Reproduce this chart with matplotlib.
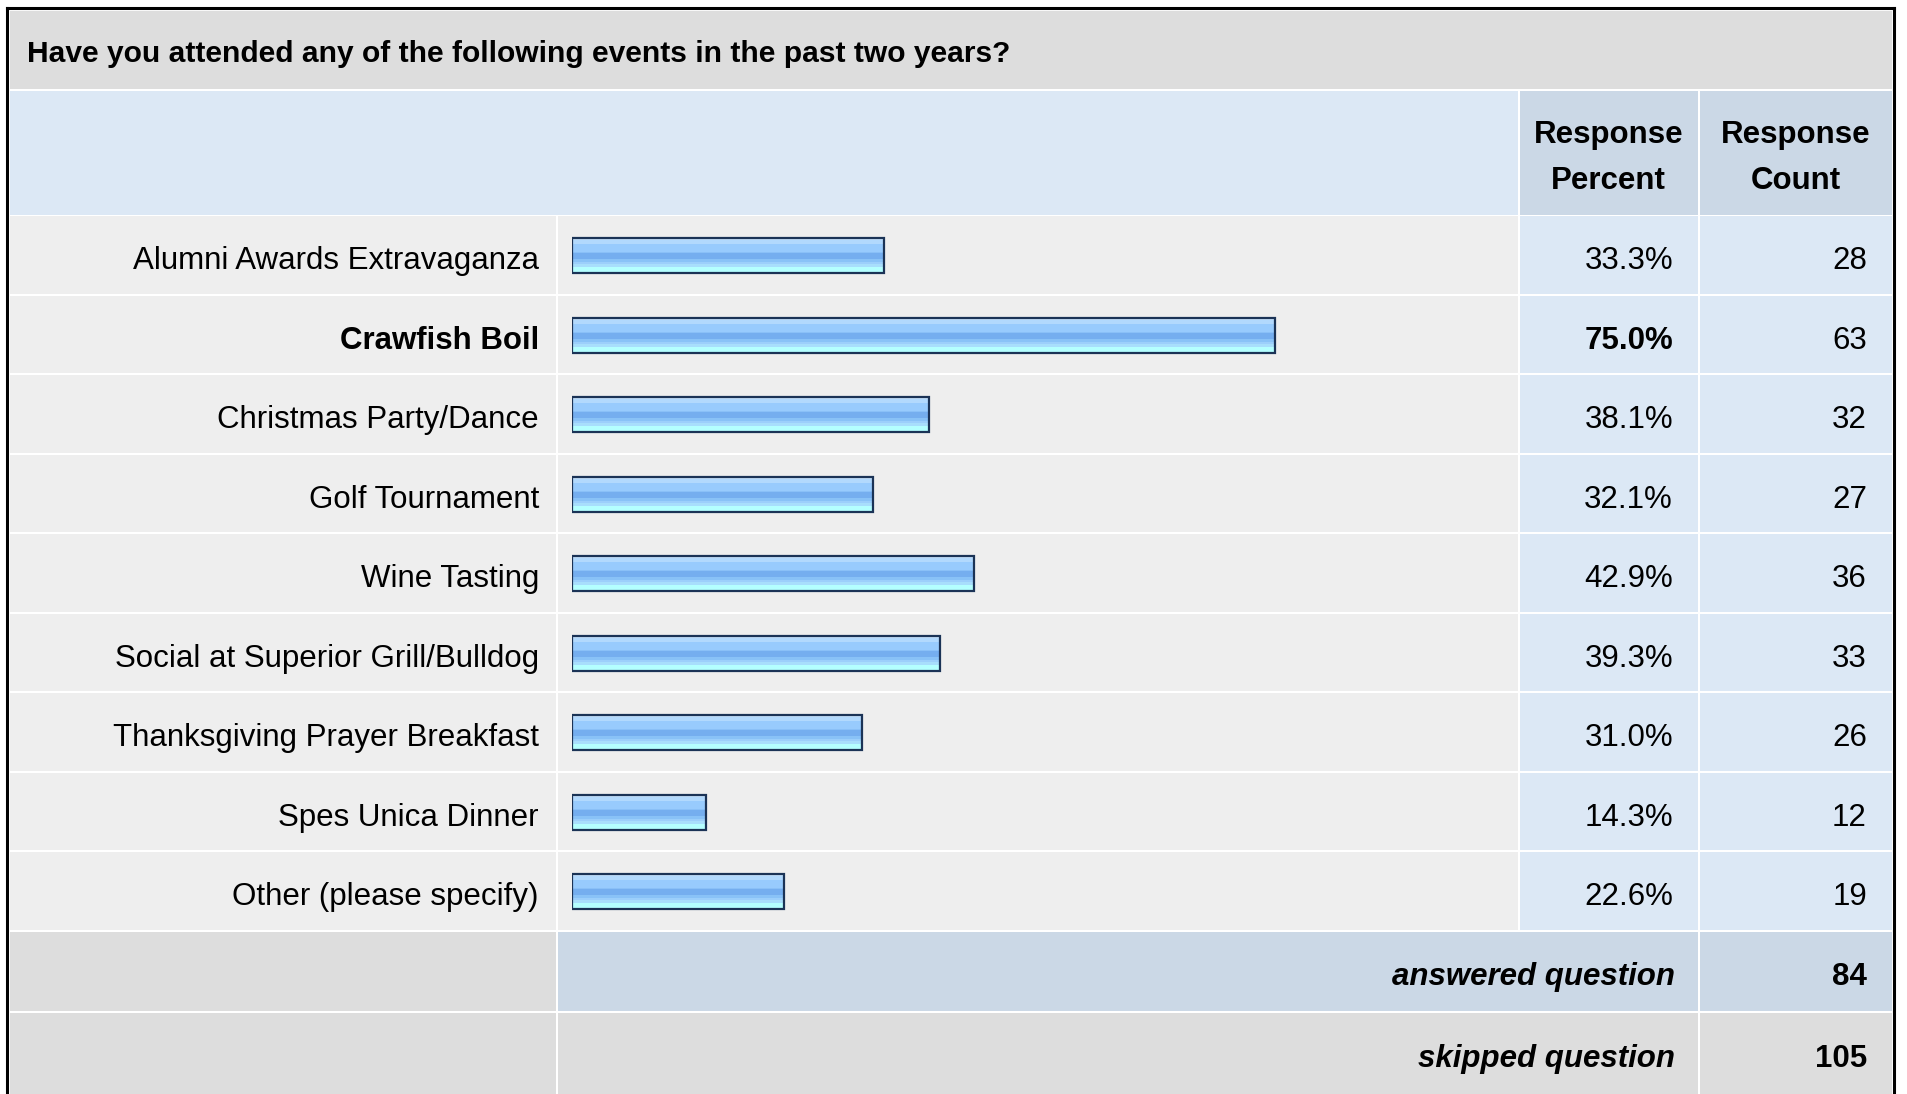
import matplotlib
matplotlib.use('Agg')
import matplotlib.pyplot as plt
import numpy as np
from matplotlib.patches import Rectangle
from matplotlib.colors import to_rgb

# survey data
question = 'Have you attended any of the following events in the past two years?'
events = ['Alumni Awards Extravaganza', 'Crawfish Boil', 'Christmas Party/Dance',
          'Golf Tournament', 'Wine Tasting', 'Social at Superior Grill/Bulldog',
          'Thanksgiving Prayer Breakfast', 'Spes Unica Dinner', 'Other (please specify)']
percents = [33.3, 75.0, 38.1, 32.1, 42.9, 39.3, 31.0, 14.3, 22.6]
counts = [28, 63, 32, 27, 36, 33, 26, 12, 19]
answered = 84
skipped = 105
top_event = 'Crawfish Boil'

plt.rcParams['font.family'] = ['Liberation Sans', 'DejaVu Sans']

W, H = 1907, 1094
fig = plt.figure(figsize=(W / 100, H / 100), dpi=100)
fig.patch.set_facecolor('white')

# background axes in pixel units (y down)
bg = fig.add_axes([0, 0, 1, 1])
bg.set_xlim(0, W)
bg.set_ylim(H, 0)
bg.axis('off')

GREY = '#dddddd'
ROWBG = '#eeeeee'
LBLUE = '#dce8f5'
MBLUE = '#cbd8e6'


def cell(x0, x1, y0, y1, color):
    bg.add_patch(Rectangle((x0, y0), x1 - x0, y1 - y0, facecolor=color, edgecolor='none'))


cols = [(9.5, 555.5), (557.5, 1517.5), (1519.5, 1697.5), (1699.5, 1891.5)]
row_top = 216
row_h = 79.5

# title band
cell(9.5, 1891.5, 11, 88.5, GREY)
# header band
cell(9.5, 1517.5, 90.5, 214.5, LBLUE)
cell(cols[2][0], cols[2][1], 90.5, 214.5, MBLUE)
cell(cols[3][0], cols[3][1], 90.5, 214.5, MBLUE)

# data rows
for k in range(len(events)):
    y0 = row_top + k * row_h
    y1 = y0 + row_h - 2
    cell(cols[0][0], cols[0][1], y0, y1, ROWBG)
    cell(cols[1][0], cols[1][1], y0, y1, ROWBG)
    cell(cols[2][0], cols[2][1], y0, y1, LBLUE)
    cell(cols[3][0], cols[3][1], y0, y1, LBLUE)

# summary rows
a0 = row_top + len(events) * row_h
cell(cols[0][0], cols[0][1], a0, a0 + 79.5, GREY)
cell(cols[1][0], cols[2][1], a0, a0 + 79.5, MBLUE)
cell(cols[3][0], cols[3][1], a0, a0 + 79.5, MBLUE)
s0 = a0 + 81.5
cell(cols[0][0], cols[0][1], s0, H, GREY)
cell(cols[1][0], cols[2][1], s0, H, GREY)
cell(cols[3][0], cols[3][1], s0, H, GREY)

# outer frame
bg.plot([6.5, 6.5], [8, H], color='black', lw=2.2, solid_capstyle='projecting')
bg.plot([6.5, 1894], [8, 8], color='black', lw=2.2, solid_capstyle='projecting')
bg.plot([1894, 1894], [8, H], color='black', lw=2.2, solid_capstyle='projecting')

# texts
fs = 22.5
bg.text(27, 62, question, fontsize=21.6, fontweight='bold', ha='left', va='baseline')
pc_x = (cols[2][0] + cols[2][1]) / 2
ct_x = (cols[3][0] + cols[3][1]) / 2
for x, lines in [(pc_x, ('Response', 'Percent')), (ct_x, ('Response', 'Count'))]:
    bg.text(x, 142.5, lines[0], fontsize=fs, fontweight='bold', ha='center', va='baseline')
    bg.text(x, 189, lines[1], fontsize=fs, fontweight='bold', ha='center', va='baseline')

for k, (ev, p, c) in enumerate(zip(events, percents, counts)):
    base = row_top + (k + 0.5) * row_h + 13.5
    w = 'bold' if ev == top_event else 'normal'
    bg.text(539, base, ev, fontsize=fs, fontweight=w, ha='right', va='baseline')
    bg.text(1673, base, f'{p:.1f}%', fontsize=fs, fontweight=w, ha='right', va='baseline')
    bg.text(1867, base, str(c), fontsize=fs, ha='right', va='baseline')

bg.text(1675, a0 + 39.75 + 14, 'answered question', fontsize=fs, fontweight='bold',
        fontstyle='italic', ha='right', va='baseline')
bg.text(1867, a0 + 39.75 + 14, str(answered), fontsize=fs, fontweight='bold', ha='right', va='baseline')
bg.text(1675, s0 + 40 + 14, 'skipped question', fontsize=fs, fontweight='bold',
        fontstyle='italic', ha='right', va='baseline')
bg.text(1867, s0 + 40 + 14, str(skipped), fontsize=fs, fontweight='bold', ha='right', va='baseline')

# bar axes: 0-100 % mapped onto the bar column
bx0, bx1 = 572, 1509
ytop, ybot = row_top, row_top + len(events) * row_h
ax = fig.add_axes([bx0 / W, 1 - ybot / H, (bx1 - bx0) / W, (ybot - ytop) / H])
ax.axis('off')
ax.patch.set_alpha(0)

# glossy stripe gradient (top -> bottom)
stripes = ['#c6e2fc'] * 2 + ['#b2d9fd'] * 3 + ['#98cbfd'] * 7 + ['#8ac0f7'] * 1 + \
          ['#75aeef'] * 6 + ['#89c2f7'] * 2 + ['#9ccffb'] * 2 + ['#a8defc'] * 3 + ['#b4ffff'] * 5
grad = np.array([[to_rgb(c)] for c in stripes])

bh = 0.44
ypos = np.arange(len(events))
for y, p in zip(ypos, percents):
    ax.imshow(grad, extent=(0, p, y + bh / 2, y - bh / 2), aspect='auto',
              interpolation='nearest', zorder=1)
ax.barh(ypos, percents, height=bh, left=0, color='none', edgecolor='#1b3356',
        linewidth=1.6, zorder=2)
ax.set_xlim(0, 100)
ax.set_ylim(len(events) - 0.5, -0.5)

fig.savefig('out.png', dpi=100, facecolor='white')
